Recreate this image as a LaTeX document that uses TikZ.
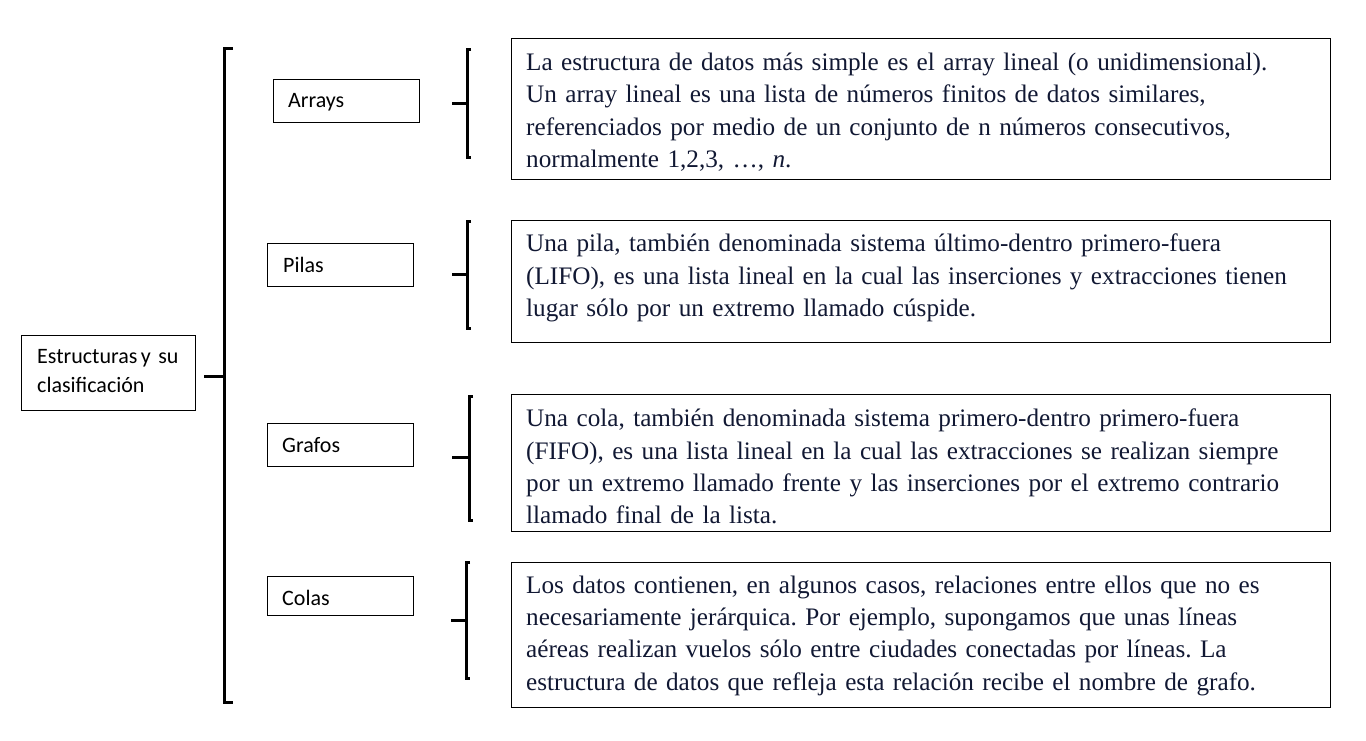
\documentclass[tikz,border=0pt]{standalone}
\usepackage{fontspec}
\setmainfont{Liberation Serif}
\newfontfamily\lblfont{Carlito}
\definecolor{navytext}{HTML}{111833}
\begin{document}
\frenchspacing
\begin{tikzpicture}[x=1pt,y=-1pt,
  lbox/.style={draw=black,line width=1.2pt,inner sep=0pt,anchor=north west},
  lbl/.style={font=\lblfont\fontsize{22}{29}\selectfont,inner sep=0pt,anchor=base west,text width=170pt,align=left},
  tbox/.style={draw=black,line width=1.2pt,inner sep=0pt,anchor=north west,minimum width=819pt},
  txt/.style={font=\fontsize{25.2}{32.3}\selectfont,text=navytext,inner sep=0pt,anchor=base west,text width=800pt,align=left},
  brk/.style={line width=3pt,line cap=butt}
]
\useasboundingbox (0,0) rectangle (1366,741);
% main box
\node[lbox,minimum width=174pt,minimum height=75pt] (main) at (21,335) {};
\node[lbl] (mainl) at (37,363) {Estructuras\hspace{0.16em}y su\\clasificación};
% category boxes
\node[lbox,minimum width=146pt,minimum height=43pt] (arr) at (273,79) {};
\node[lbl] (arrl) at (288,108) {Arrays};
\node[lbox,minimum width=146pt,minimum height=43pt] (pil) at (267,243) {};
\node[lbl] (pill) at (283,272) {Pilas};
\node[lbox,minimum width=146pt,minimum height=43pt] (gra) at (267,423) {};
\node[lbl] (gral) at (282,452) {Grafos};
\node[lbox,minimum width=146pt,minimum height=39pt] (col) at (267,576) {};
\node[lbl] (coll) at (282,605) {Colas};
% big bracket
\coordinate (bt) at (224,49);
\coordinate (bb) at (224,702);
\coordinate (bm) at (224,376);
\coordinate (bl) at (204,376);
\draw[brk] (232.5,49) -- (bt) -- (bb) -- (232.5,702);
\draw[brk] (bl) -- (bm);
% text boxes
\node[tbox,minimum height=141pt] (t1) at (511,38) {};
\node[txt] (t1x) at (526,70.7) {La estructura de datos más simple es el array lineal (o unidimensional).\\Un array lineal es una lista de números finitos de datos similares,\\referenciados por medio de un conjunto de n números consecutivos,\\normalmente 1,2,3, \dots, \textit{n}.};
\node[tbox,minimum height=122pt] (t2) at (511,220) {};
\node[txt] (t2x) at (526,251.7) {Una pila, también denominada sistema último-dentro primero-fuera\\(LIFO), es una lista lineal en la cual las inserciones y extracciones tienen\\lugar sólo por un extremo llamado cúspide.};
\node[tbox,minimum height=137pt] (t3) at (511,394) {};
\node[txt] (t3x) at (526,426.7) {Una cola, también denominada sistema primero-dentro primero-fuera\\(FIFO), es una lista lineal en la cual las extracciones se realizan siempre\\por un extremo llamado frente y las inserciones por el extremo contrario\\llamado final de la lista.};
\node[tbox,minimum height=145pt] (t4) at (511,562) {};
\node[txt] (t4x) at (526,593.3) {Los datos contienen, en algunos casos, relaciones entre ellos que no es\\necesariamente jerárquica. Por ejemplo, supongamos que unas líneas\\aéreas realizan vuelos sólo entre ciudades conectadas por líneas. La\\estructura de datos que refleja esta relación recibe el nombre de grafo.};
% small brackets
\coordinate (s1m) at (467,104); \coordinate (s1l) at (452,104);
\draw[brk] (471,50) -- (467,50) -- (467,158) -- (471,158);
\draw[brk] (s1l) -- (s1m);
\coordinate (s2m) at (467,274); \coordinate (s2l) at (452,274);
\draw[brk] (471,221) -- (467,221) -- (467,328) -- (471,328);
\draw[brk] (s2l) -- (s2m);
\coordinate (s3m) at (469,457); \coordinate (s3l) at (452,457);
\draw[brk] (473,396) -- (469,396) -- (469,520) -- (473,520);
\draw[brk] (s3l) -- (s3m);
\coordinate (s4m) at (466,620); \coordinate (s4l) at (451,620);
\draw[brk] (470,562) -- (466,562) -- (466,678) -- (470,678);
\draw[brk] (s4l) -- (s4m);
\end{tikzpicture}
\end{document}
